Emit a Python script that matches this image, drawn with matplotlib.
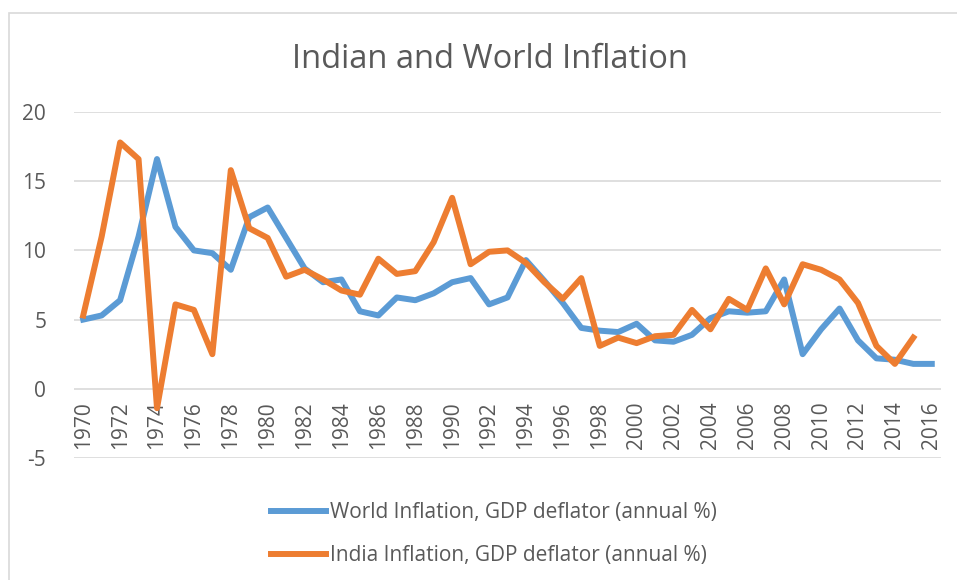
import numpy as np
import matplotlib.pyplot as plt
from matplotlib.patches import Rectangle

years = list(range(1970, 2017))

world = [5.0, 5.3, 6.4, 11.0, 16.6, 11.7, 10.0, 9.8, 8.6, 12.4,
         13.1, 10.9, 8.7, 7.7, 7.9, 5.6, 5.3, 6.6, 6.4, 6.9,
         7.7, 8.0, 6.1, 6.6, 9.3, 7.8, 6.2, 4.4, 4.2, 4.1,
         4.7, 3.5, 3.4, 3.9, 5.1, 5.6, 5.5, 5.6, 7.9, 2.5,
         4.3, 5.8, 3.5, 2.2, 2.1, 1.8, 1.8]

india = [5.3, 11.0, 17.8, 16.6, -1.4, 6.1, 5.7, 2.5, 15.8, 11.6,
         10.9, 8.1, 8.6, 7.9, 7.1, 6.8, 9.4, 8.3, 8.5, 10.6,
         13.8, 9.0, 9.9, 10.0, 9.1, 7.7, 6.5, 8.0, 3.1, 3.7,
         3.3, 3.8, 3.9, 5.7, 4.3, 6.5, 5.7, 8.7, 6.1, 9.0,
         8.6, 7.9, 6.2, 3.1, 1.8, 3.7, np.nan]

yticks = [-5, 0, 5, 10, 15, 20]
title = "Indian and World Inflation"
lab_world = "World Inflation, GDP deflator (annual %)"
lab_india = "India Inflation, GDP deflator (annual %)"

plt.rcParams['font.family'] = ['Open Sans', 'DejaVu Sans']
plt.rcParams['axes.unicode_minus'] = False
txt = '#595959'
grid = '#d9d9d9'

fig = plt.figure(figsize=(9.57, 5.8), dpi=100)
# chart area border
fig.patches.append(Rectangle((9/957, -0.1), 1.1, 1 - 13/580 + 0.1, transform=fig.transFigure,
                             fill=False, edgecolor=grid, lw=1.2))

ax = fig.add_axes([74/957, 1 - 458/580, (941-74)/957, (458-112)/580])
ax.plot(years, world, color='#5B9BD5', lw=4.3, label=lab_world, solid_joinstyle='round')
ax.plot(years, india, color='#ED7D31', lw=4.3, label=lab_india, solid_joinstyle='round')

ax.set_xlim(1969.5, 2016.5)
ax.set_ylim(-5, 20)
ax.set_yticks(yticks)
ax.yaxis.grid(True, color=grid, lw=1.2)
ax.set_axisbelow(True)
for s in ['top', 'right', 'left']:
    ax.spines[s].set_visible(False)
ax.spines['bottom'].set_position(('data', 0))
ax.spines['bottom'].set_visible(False)
ax.set_xticks(years[::2])
ax.set_xticklabels([str(y) for y in years[::2]], rotation=90, fontsize=15, color=txt)
ax.tick_params(axis='x', length=0, pad=9)
ax.tick_params(axis='y', length=0, pad=20, labelsize=15, labelcolor=txt)

fig.text(490/957, 1 - 60/580, title, ha='center', va='center', fontsize=23.5, color=txt)

fig.legend(loc='center', bbox_to_anchor=(494/957, 1 - 534/580), ncol=1, frameon=False,
           fontsize=15, handlelength=2.6, handletextpad=0.2, labelspacing=1.05,
           labelcolor=txt)

fig.savefig('out.png', dpi=100)
